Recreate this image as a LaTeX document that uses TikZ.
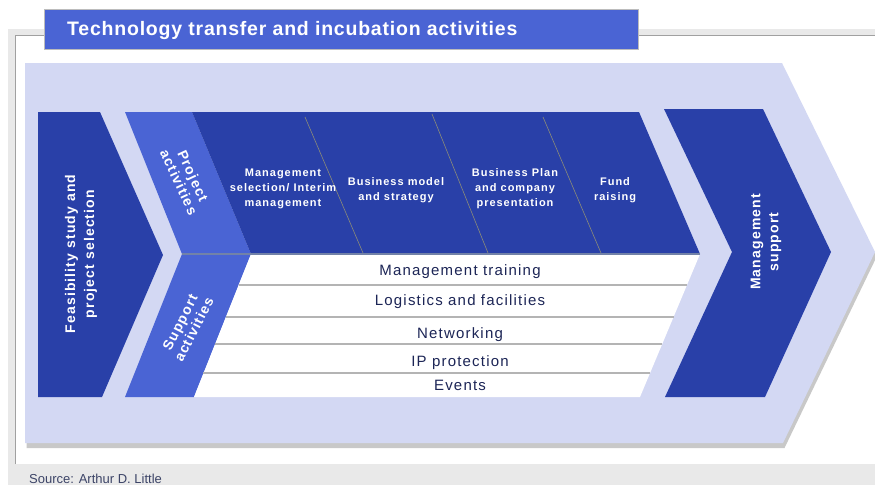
\documentclass[tikz,border=0pt]{standalone}
\usepackage{fontspec}
\setmainfont{Liberation Sans}
\newfontfamily\spfont[LetterSpace=8]{Liberation Sans}
\newfontfamily\spfontb[LetterSpace=9]{Liberation Sans}
\newfontfamily\spfontt[LetterSpace=4]{Liberation Sans}
\definecolor{dkblue}{HTML}{2940A8}
\definecolor{ltblue}{HTML}{4A64D4}
\definecolor{lavender}{HTML}{D3D8F3}
\definecolor{bggrey}{HTML}{E9E9E9}
\definecolor{framegrey}{HTML}{A0A0A0}
\definecolor{shadowgrey}{HTML}{C8C8C8}
\definecolor{rowline}{HTML}{B4B4B4}
\definecolor{midline}{HTML}{7282A8}
\definecolor{divline}{HTML}{8C8C78}
\definecolor{navytext}{HTML}{1C2556}
\definecolor{srctext}{HTML}{3C4467}
\tikzset{
  whitebig/.style={text=white, font=\spfont\bfseries\fontsize{14}{19}\selectfont, align=center, inner sep=0pt},
  slantlabel/.style={whitebig, font=\spfont\bfseries\fontsize{14}{15.5}\selectfont},
  colhead/.style={text=white, font=\spfontb\bfseries\fontsize{11}{15}\selectfont, align=center, inner sep=0pt},
  rowtext/.style={text=navytext, font=\spfont\fontsize{15}{18}\selectfont, inner sep=0pt, anchor=base},
  rowsep/.style={draw=rowline, line width=1.4pt},
  divider/.style={draw=divline, line width=0.6pt},
}
\begin{document}
\begin{tikzpicture}[x=1pt,y=-1pt]
\useasboundingbox (0,0) rectangle (875,485);
% background frame
\fill[bggrey] (8,29) rectangle (875,485);
\fill[white] (15,35) rectangle (875,464);
\draw[framegrey, line width=1pt] (15,464) -- (15,35) -- (875,35);
% title
\fill[ltblue] (44,9) rectangle (638,49);
\draw[framegrey!70, line width=0.8pt] (44,9) rectangle (638,49);
\node[anchor=base west, text=white, font=\spfontt\bfseries\fontsize{19.5}{22}\selectfont, inner sep=0pt] (title) at (67,35.5) {Technology transfer and incubation activities};
% big lavender arrow with shadow
\fill[shadowgrey, shift={(1.5,5)}] (25,63) -- (782,63) -- (875,252) -- (783,443) -- (25,443) -- cycle;
\fill[lavender] (25,63) -- (782,63) -- (875,252) -- (783,443) -- (25,443) -- cycle;
% left chevron
\fill[dkblue] (38,112) -- (100,112) -- (163,255) -- (102,397) -- (38,397) -- cycle;
% project / support light parts
\fill[ltblue] (125,112) -- (192,112) -- (251,254) -- (182,254) -- cycle;
\fill[ltblue] (182,254) -- (251,254) -- (194,397) -- (125,397) -- cycle;
% project activities dark area
\fill[dkblue] (192,112) -- (639,112) -- (700,254) -- (251,254) -- cycle;
% support white area
\fill[white] (251,254) -- (700,254) -- (640,397) -- (194,397) -- cycle;
\draw[midline, line width=1.3pt] (182,254) -- (700,254);
% dividers
\draw[divider] (305,117) -- (363,253);
\draw[divider] (432,114) -- (488,253);
\draw[divider] (543,117) -- (601,253);
% row separators
\draw[rowsep] (238.6,285) -- (687,285);
\draw[rowsep] (225.8,317) -- (673.5,317);
\draw[rowsep] (215,344) -- (662.2,344);
\draw[rowsep] (203.4,373) -- (650,373);
% right chevron
\fill[dkblue] (664,109) -- (763,109) -- (831,252) -- (765,397) -- (665,397) -- (732,252) -- cycle;
% texts
\node[whitebig, rotate=90] (feas) at (81,254) {Feasibility study and\\project selection};
\node[whitebig, rotate=90, font=\spfont\bfseries\fontsize{14}{18}\selectfont] (mgmt) at (766,242) {Management\\support};
\node[slantlabel, rotate=-65] (proj) at (186,179) {Project\\activities};
\node[slantlabel, rotate=63] (supp) at (187,326) {Support\\activities};
\node[colhead] (c1) at (283,189) {Management\\selection/ Interim\\management};
\node[colhead] (c2) at (396,190) {Business model\\and strategy};
\node[colhead] (c3) at (515,189) {Business Plan\\and company\\presentation};
\node[colhead] (c4) at (615,190) {Fund\\raising};
\node[rowtext] (r1) at (460,275) {Management training};
\node[rowtext] (r2) at (460,305) {Logistics and facilities};
\node[rowtext] (r3) at (460,338) {Networking};
\node[rowtext] (r4) at (460,366) {IP protection};
\node[rowtext] (r5) at (460,390) {Events};
\node[anchor=base west, text=srctext, font=\fontsize{13}{15}\selectfont, inner sep=0pt] (src) at (29,483) {Source: Arthur D. Little};
\end{tikzpicture}
\end{document}
